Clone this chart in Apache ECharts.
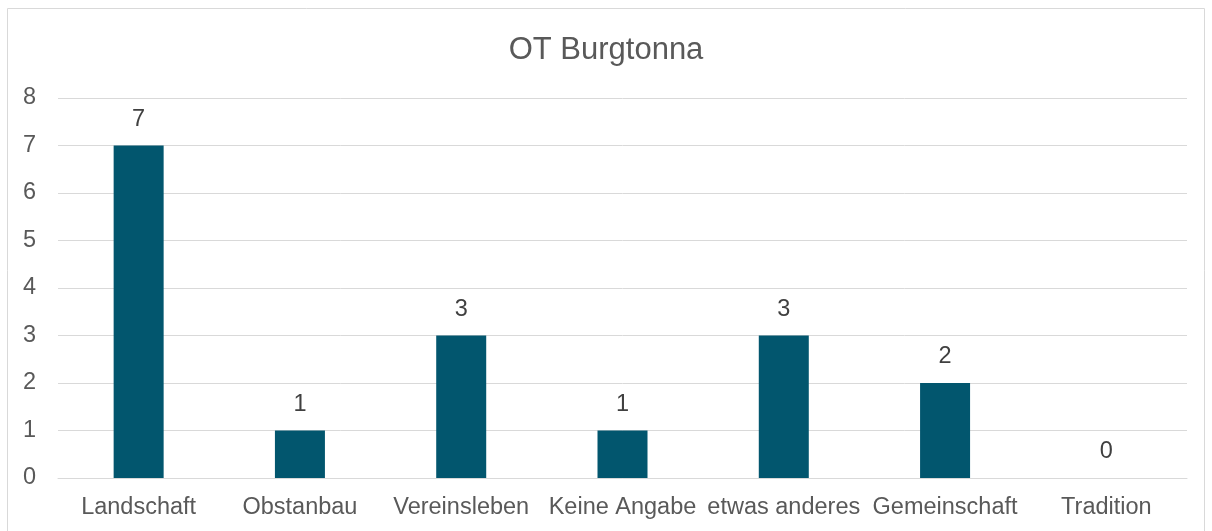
<!DOCTYPE html>
<html>
<head>
<meta charset="utf-8">
<script src="https://cdn.jsdelivr.net/npm/echarts@6/dist/echarts.min.js"></script>
<style>
  html, body { margin: 0; padding: 0; background: #fff; }
  #chart { width: 1212px; height: 531px; }
</style>
</head>
<body>
<div id="chart"></div>
<script>
// Daten
var categories = ['Landschaft', 'Obstanbau', 'Vereinsleben', 'Keine Angabe', 'etwas anderes', 'Gemeinschaft', 'Tradition'];
var values = [7, 1, 3, 1, 3, 2, 0];

var chart = echarts.init(document.getElementById('chart'));

var option = {
  textStyle: { fontFamily: 'Liberation Sans, Arial, sans-serif' },
  // Rahmen um das Diagramm
  graphic: [{
    type: 'rect',
    shape: { x: 7.5, y: 8.5, width: 1197, height: 540 },
    style: { fill: 'none', stroke: '#d9d9d9', lineWidth: 1 },
    silent: true
  }],
  title: {
    text: 'OT Burgtonna',
    left: 'center',
    top: 30,
    textStyle: { color: '#595959', fontSize: 31, fontWeight: 'normal' }
  },
  grid: { left: 58, right: 25, top: 98, bottom: 53, containLabel: false },
  xAxis: {
    type: 'category',
    data: categories,
    axisLine: { show: true, lineStyle: { color: '#d9d9d9', width: 1 } },
    axisTick: { show: false },
    axisLabel: { color: '#595959', fontSize: 23.5, margin: 18, interval: 0 }
  },
  yAxis: {
    type: 'value',
    min: 0,
    max: 8,
    interval: 1,
    axisLine: { show: false },
    axisTick: { show: false },
    splitLine: { lineStyle: { color: '#d9d9d9', width: 1 } },
    axisLabel: { color: '#595959', fontSize: 23.5, margin: 22 }
  },
  series: [{
    type: 'bar',
    data: values,
    barWidth: 50,
    itemStyle: { color: '#02566e' },
    label: {
      show: true,
      position: 'top',
      distance: 14,
      color: '#404040',
      fontSize: 23.5
    }
  }]
};

chart.setOption(option);
</script>
</body>
</html>
